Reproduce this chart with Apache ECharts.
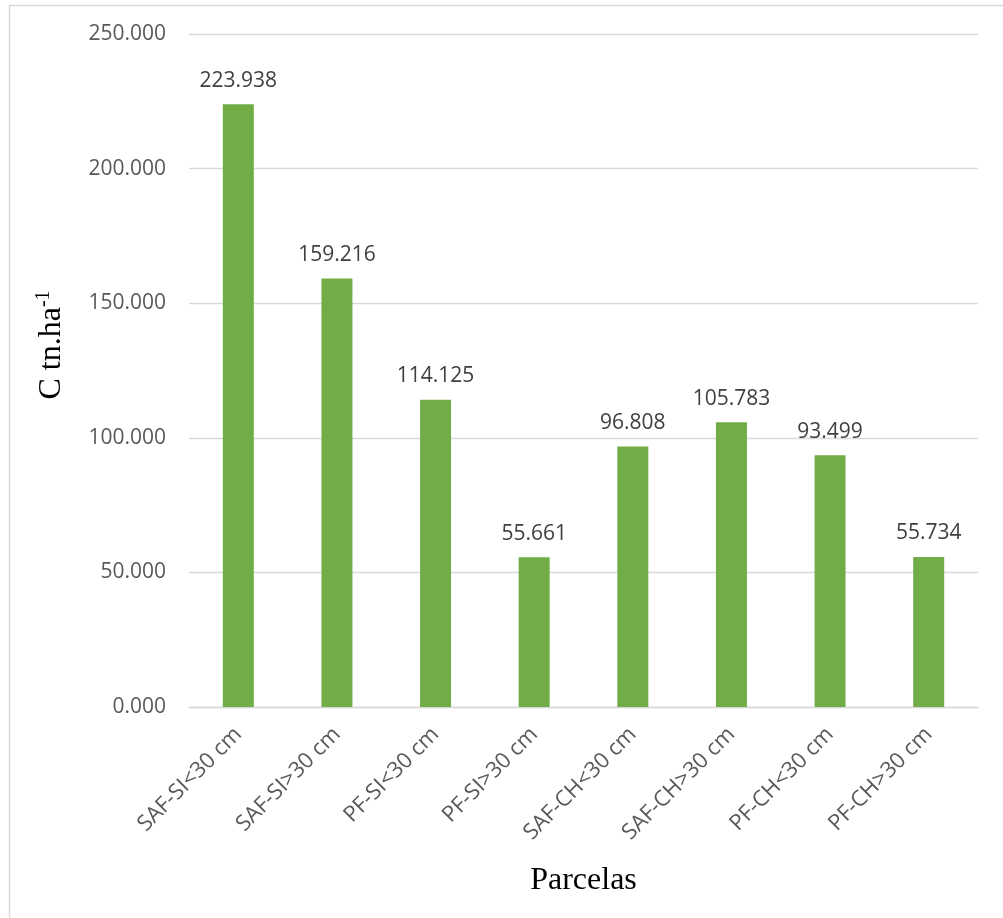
<!DOCTYPE html>
<html>
<head>
<meta charset="utf-8">
<script src="https://cdn.jsdelivr.net/npm/echarts@6/dist/echarts.min.js"></script>
<style>
html,body{margin:0;padding:0;background:#fff;}
#chart{width:1003px;height:918px;}
</style>
</head>
<body>
<div id="chart"></div>
<script>
const categories = ['SAF-SI<30 cm','SAF-SI>30 cm','PF-SI<30 cm','PF-SI>30 cm','SAF-CH<30 cm','SAF-CH>30 cm','PF-CH<30 cm','PF-CH>30 cm'];
const values = [223.938, 159.216, 114.125, 55.661, 96.808, 105.783, 93.499, 55.734];
const yTicks = [0, 50, 100, 150, 200, 250];

const fmt = v => v.toFixed(3);
const chart = echarts.init(document.getElementById('chart'));
chart.setOption({
  animation: false,
  backgroundColor: '#fff',
  grid: {left: 189, right: 25, top: 34, bottom: 211},
  xAxis: {
    type: 'category',
    data: categories,
    axisLine: {lineStyle: {color: '#D9D9D9', width: 1.3}},
    axisTick: {show: false},
    axisLabel: {rotate: 45, margin: 24, color: '#595959', fontFamily: 'Open Sans', fontSize: 22, interval: 0},
    name: 'Parcelas',
    nameLocation: 'middle',
    nameGap: 158,
    nameTextStyle: {fontFamily: 'Liberation Serif', fontSize: 32, color: '#000'}
  },
  yAxis: {
    type: 'value',
    min: yTicks[0],
    max: yTicks[yTicks.length - 1],
    interval: 50,
    axisLine: {show: false},
    axisTick: {show: false},
    splitLine: {lineStyle: {color: '#D9D9D9', width: 1.3}},
    axisLabel: {margin: 23, color: '#595959', fontFamily: 'Open Sans', fontSize: 21, formatter: v => fmt(v)}
  },
  graphic: [
    {type: 'rect', silent: true, shape: {x: 9.5, y: 5.5, width: 1200, height: 1200},
     style: {fill: 'none', stroke: '#D9D9D9', lineWidth: 1.5}},
    {type: 'text', x: 51, y: 345, rotation: Math.PI / 2,
     style: {text: '{m|C tn.ha}{s|-1}', rich: {
        m: {fontFamily: 'Liberation Serif', fontSize: 32, fill: '#000', verticalAlign: 'bottom'},
        s: {fontFamily: 'Liberation Serif', fontSize: 20, fill: '#000', verticalAlign: 'top', padding: [0,0,14,0]}
      }, align: 'center', verticalAlign: 'middle'}}
  ],
  series: [{
    type: 'bar',
    data: values,
    barWidth: 31,
    itemStyle: {color: '#70AD47'},
    label: {show: true, position: 'top', distance: 13, color: '#404040', fontFamily: 'Open Sans', fontSize: 21, formatter: p => fmt(p.value)}
  }]
});
</script>
</body>
</html>
